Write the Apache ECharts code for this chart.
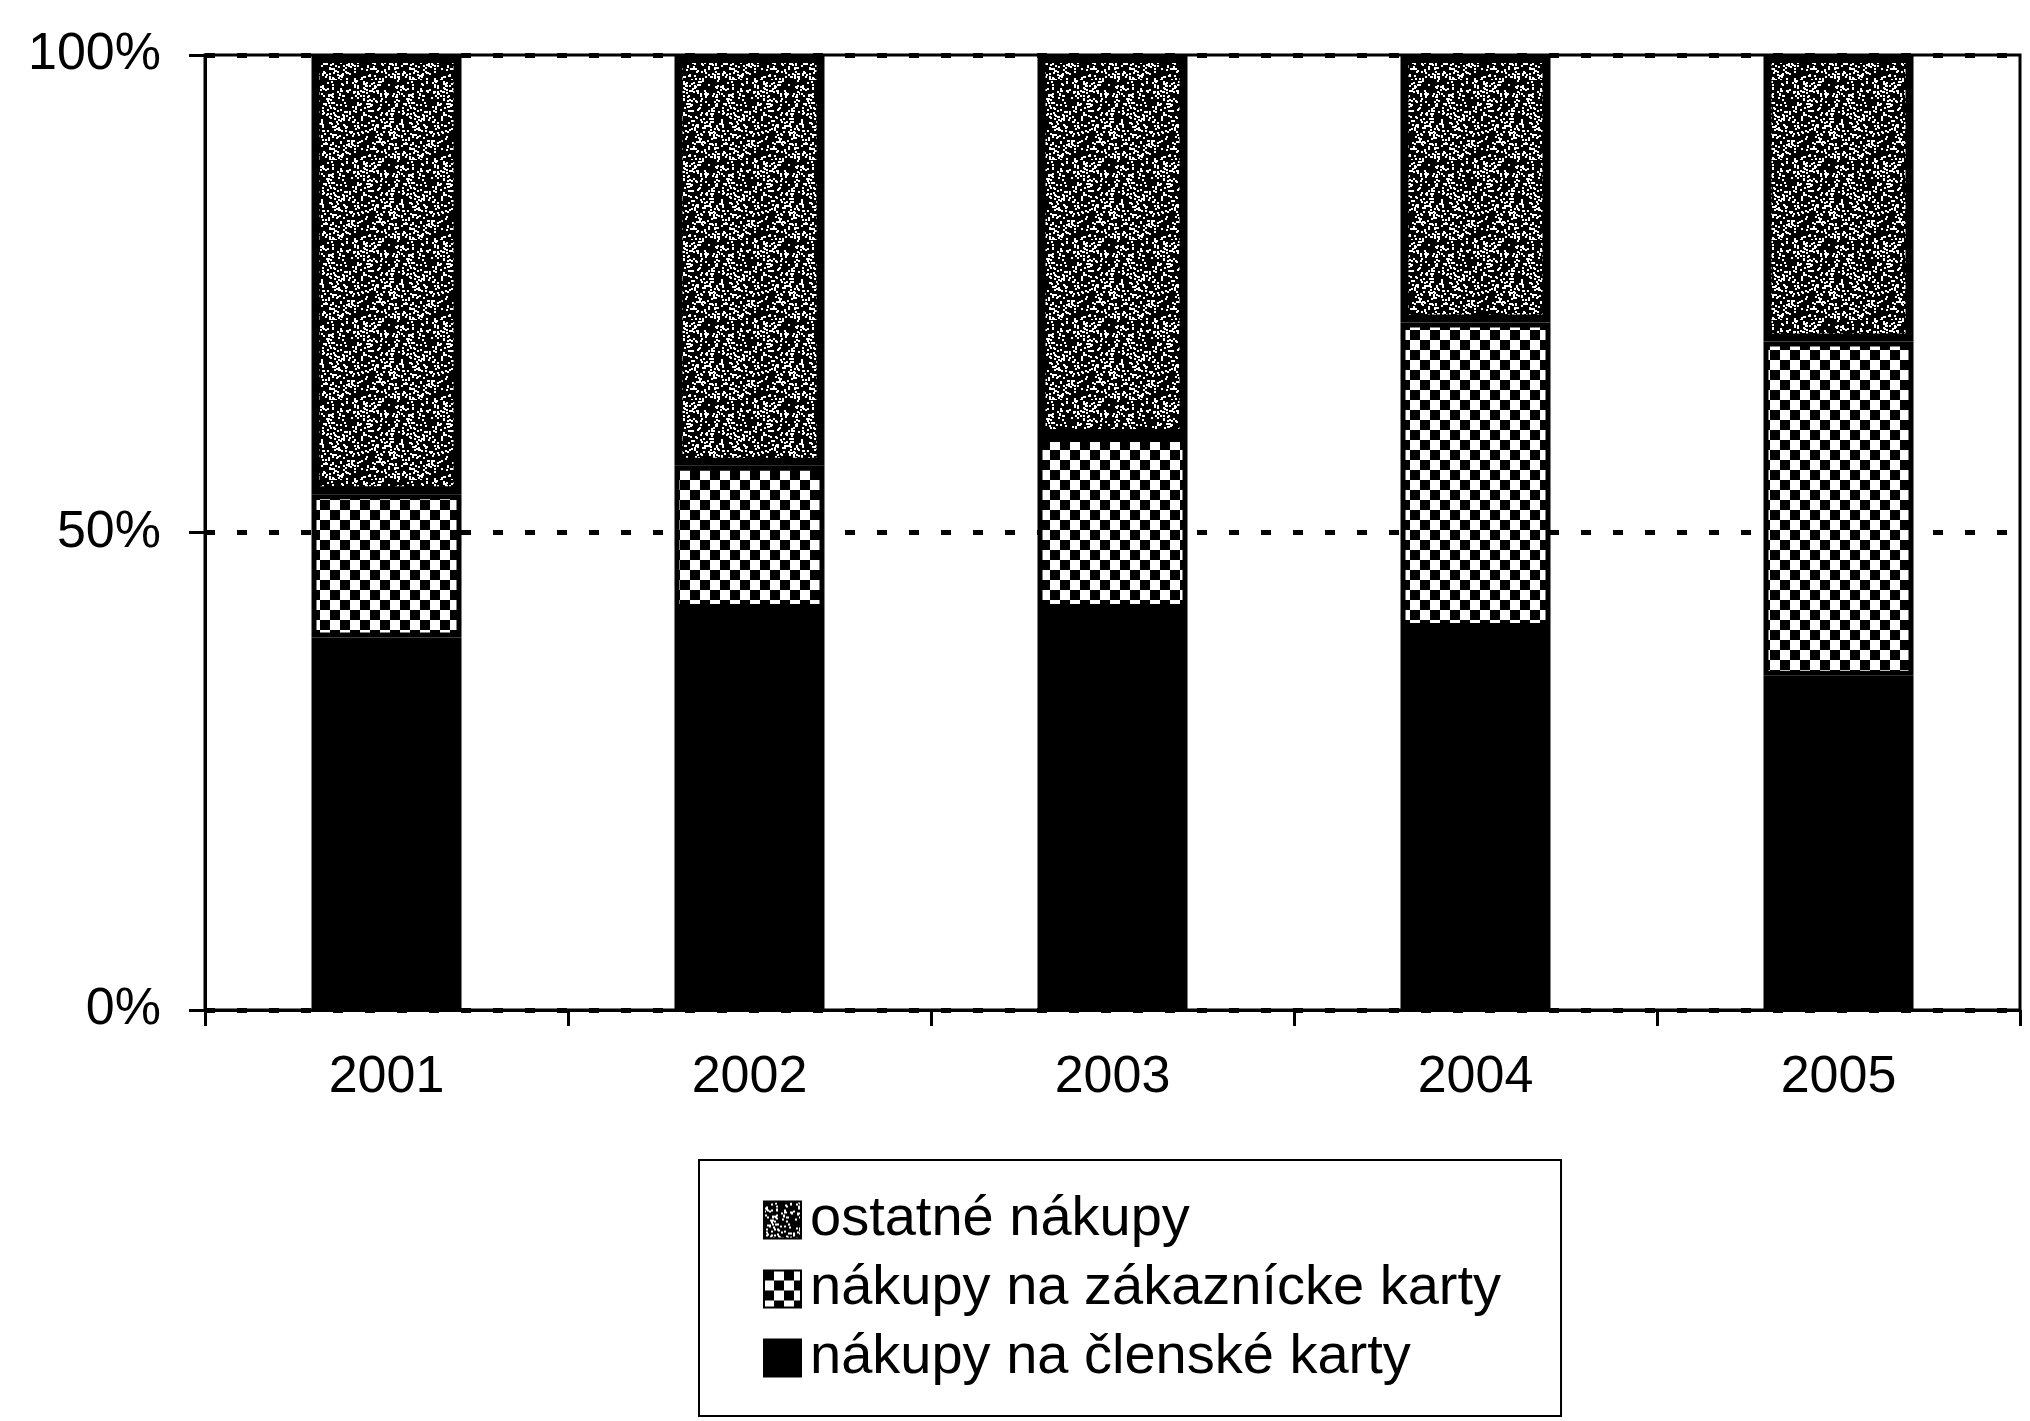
<!DOCTYPE html>
<html>
<head>
<meta charset="utf-8">
<script src="https://cdn.jsdelivr.net/npm/echarts@6/dist/echarts.min.js"></script>
<style>
html, body { margin: 0; padding: 0; background: #fff; }
#chart { width: 2030px; height: 1421px; }
</style>
</head>
<body>
<div id="chart"></div>
<script>
var years = ["2001", "2002", "2003", "2004", "2005"];
var clenske = [39, 42, 42, 40, 35];      // nákupy na členské karty
var zakaznicke = [15, 15, 18, 32, 35];   // nákupy na zákaznícke karty
var ostatne = [46, 43, 40, 28, 30];      // ostatné nákupy
var yTicks = [0, 50, 100];

var FONT = "'Liberation Sans', Arial, sans-serif";

// checkerboard fill
function checkerTile() {
    var c = document.createElement("canvas");
    c.width = 20; c.height = 20;
    var g = c.getContext("2d");
    g.fillStyle = "#fff";
    g.fillRect(0, 0, 20, 20);
    g.fillStyle = "#000";
    g.fillRect(0, 0, 10, 10);
    g.fillRect(10, 10, 10, 10);
    return c;
}

// dark speckled fill, fixed seed so the texture is always the same
function speckleTile() {
    var c = document.createElement("canvas");
    c.width = 80; c.height = 80;
    var g = c.getContext("2d");
    g.fillStyle = "#000";
    g.fillRect(0, 0, 80, 80);
    g.fillStyle = "#fff";
    var a = 1234567;
    function next() {
        a = (a + 0x6D2B79F5) | 0;
        var t = Math.imul(a ^ (a >>> 15), 1 | a);
        t = (t + Math.imul(t ^ (t >>> 7), 61 | t)) ^ t;
        return ((t ^ (t >>> 14)) >>> 0) / 4294967296;
    }
    for (var i = 0; i < 520; i++) {
        var x = Math.floor(next() * 80);
        var y = Math.floor(next() * 80);
        g.fillRect(x, y, 2, 2);
    }
    return c;
}

var chart = echarts.init(document.getElementById("chart"));

var option = {
    backgroundColor: "#fff",
    animation: false,
    textStyle: { fontFamily: FONT, color: "#000" },
    grid: {
        show: true,
        left: 205,
        top: 55,
        right: 10,
        height: 955,
        borderColor: "#000",
        borderWidth: 3
    },
    legend: {
        orient: "vertical",
        left: 699,
        top: 1160,
        icon: "rect",
        itemWidth: 37,
        itemHeight: 37,
        itemGap: 13,
        padding: [32, 60, 30, 64],
        borderColor: "#000",
        borderWidth: 2,
        data: ["ostatné nákupy", "nákupy na zákaznícke karty", "nákupy na členské karty"],
        textStyle: { fontSize: 56, lineHeight: 52, color: "#000", fontFamily: FONT, padding: [0, 0, 0, 4] }
    },
    xAxis: {
        type: "category",
        data: years,
        axisLine: { lineStyle: { color: "#000", width: 3 } },
        axisTick: { show: true, length: 16, lineStyle: { color: "#000", width: 3 } },
        axisLabel: { fontSize: 52, color: "#000", margin: 42, fontFamily: FONT }
    },
    yAxis: {
        type: "value",
        min: yTicks[0],
        max: yTicks[yTicks.length - 1],
        interval: 50,
        axisLine: { show: true, lineStyle: { color: "#000", width: 3 } },
        axisTick: { show: true, length: 16, lineStyle: { color: "#000", width: 3 } },
        axisLabel: { fontSize: 52, color: "#000", margin: 44, formatter: "{value}%", fontFamily: FONT },
        splitLine: { show: true, lineStyle: { color: "#000", width: 5, type: [10, 22] } }
    },
    series: [
        {
            name: "nákupy na členské karty",
            type: "bar",
            stack: "total",
            barWidth: 150,
            data: clenske,
            itemStyle: { color: "#000", borderColor: "#000", borderWidth: 4 }
        },
        {
            name: "nákupy na zákaznícke karty",
            type: "bar",
            stack: "total",
            barWidth: 150,
            data: zakaznicke,
            itemStyle: { color: { image: checkerTile(), repeat: "repeat" }, borderColor: "#000", borderWidth: 5 }
        },
        {
            name: "ostatné nákupy",
            type: "bar",
            stack: "total",
            barWidth: 150,
            data: ostatne,
            itemStyle: { color: { image: speckleTile(), repeat: "repeat" }, borderColor: "#000", borderWidth: 8 }
        }
    ]
};

chart.setOption(option);
</script>
</body>
</html>
